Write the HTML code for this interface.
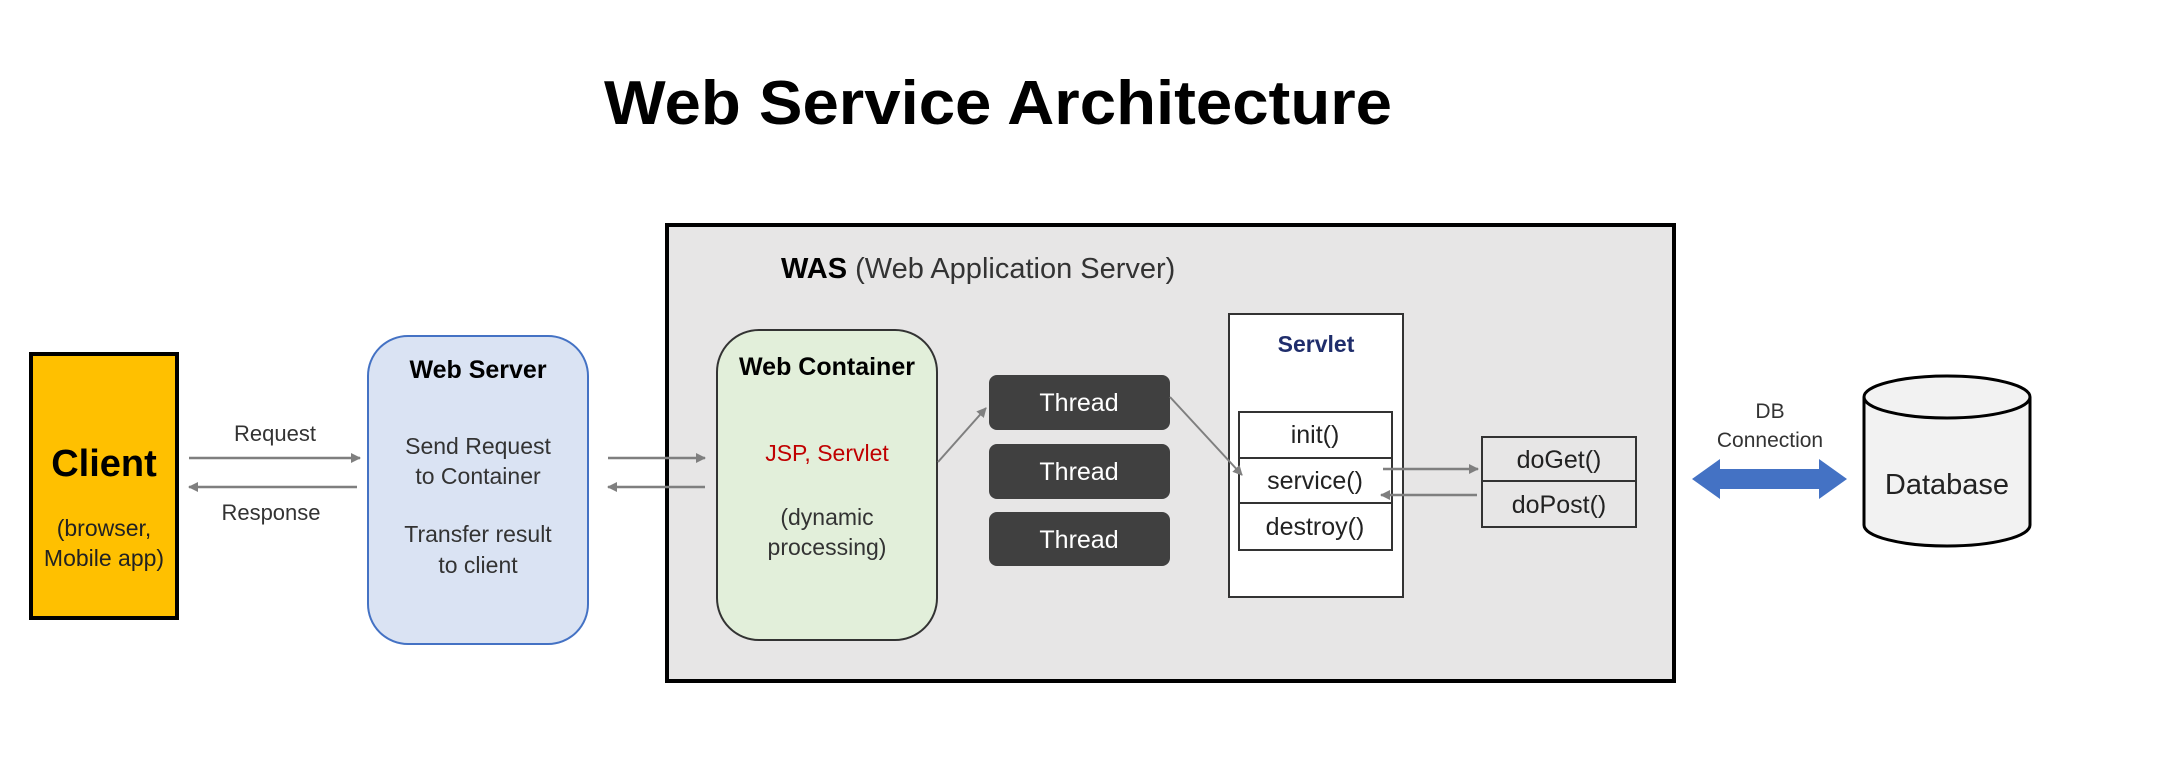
<!DOCTYPE html>
<html><head><meta charset="utf-8"><style>
html,body{margin:0;padding:0;background:#fff;}
svg{display:block;}
text{font-family:"Liberation Sans","Noto Sans CJK KR",sans-serif;}
</style></head><body>
<svg width="2168" height="762" viewBox="0 0 2168 762" xmlns="http://www.w3.org/2000/svg">
<defs>
<marker id="ah" markerWidth="10" markerHeight="10" refX="9" refY="5" orient="auto" markerUnits="userSpaceOnUse">
<path d="M0,0 L10,5 L0,10 z" fill="#7f7f7f"/></marker>
</defs>
<rect width="2168" height="762" fill="#fff"/>
<text x="998" y="124" font-size="62" font-weight="bold" text-anchor="middle" fill="#000" textLength="788" lengthAdjust="spacingAndGlyphs">Web Service Architecture</text>

<!-- Client -->
<rect x="31" y="354" width="146" height="264" fill="#FFC000" stroke="#000" stroke-width="4"/>
<text x="104" y="476" font-size="38" font-weight="bold" text-anchor="middle">Client</text>
<text x="104" y="536" font-size="23" text-anchor="middle" fill="#222">(browser,</text>
<text x="104" y="566" font-size="23" text-anchor="middle" fill="#222">Mobile app)</text>

<!-- Request/Response -->
<text x="275" y="441" font-size="22" text-anchor="middle" fill="#333">Request</text>
<line x1="189" y1="458" x2="360" y2="458" stroke="#7f7f7f" stroke-width="2.5" marker-end="url(#ah)"/>
<line x1="357" y1="487" x2="189" y2="487" stroke="#7f7f7f" stroke-width="2.5" marker-end="url(#ah)"/>
<text x="271" y="520" font-size="22" text-anchor="middle" fill="#333">Response</text>

<!-- Web Server -->
<rect x="368" y="336" width="220" height="308" rx="40" fill="#DAE3F3" stroke="#4472C4" stroke-width="2"/>
<text x="478" y="378" font-size="25" font-weight="bold" text-anchor="middle">Web Server</text>
<text x="478" y="454" font-size="23" text-anchor="middle" fill="#333">Send Request</text>
<text x="478" y="484" font-size="23" text-anchor="middle" fill="#333">to Container</text>
<text x="478" y="542" font-size="23" text-anchor="middle" fill="#333">Transfer result</text>
<text x="478" y="573" font-size="23" text-anchor="middle" fill="#333">to client</text>

<!-- WAS -->
<rect x="667" y="225" width="1007" height="456" fill="#E7E6E6" stroke="#000" stroke-width="4"/>
<text x="781" y="278" font-size="29" fill="#000"><tspan font-weight="bold">WAS</tspan><tspan fill="#333"> (Web Application Server)</tspan></text>

<line x1="608" y1="458" x2="705" y2="458" stroke="#7f7f7f" stroke-width="2.5" marker-end="url(#ah)"/>
<line x1="705" y1="487" x2="608" y2="487" stroke="#7f7f7f" stroke-width="2.5" marker-end="url(#ah)"/>

<!-- Web Container -->
<rect x="717" y="330" width="220" height="310" rx="42" fill="#E2EFDA" stroke="#333" stroke-width="2"/>
<text x="827" y="375" font-size="25" font-weight="bold" text-anchor="middle">Web Container</text>
<text x="827" y="461" font-size="23" text-anchor="middle" fill="#C00000">JSP, Servlet</text>
<text x="827" y="525" font-size="23" text-anchor="middle" fill="#333">(dynamic</text>
<text x="827" y="555" font-size="23" text-anchor="middle" fill="#333">processing)</text>

<!-- Threads -->
<rect x="989" y="375" width="181" height="55" rx="8" fill="#404040"/>
<rect x="989" y="444" width="181" height="55" rx="8" fill="#404040"/>
<rect x="989" y="512" width="181" height="54" rx="8" fill="#404040"/>
<text x="1079" y="411" font-size="25" text-anchor="middle" fill="#fff">Thread</text>
<text x="1079" y="480" font-size="25" text-anchor="middle" fill="#fff">Thread</text>
<text x="1079" y="548" font-size="25" text-anchor="middle" fill="#fff">Thread</text>

<line x1="938" y1="462" x2="986" y2="408" stroke="#7f7f7f" stroke-width="2" marker-end="url(#ah)"/>

<!-- Servlet -->
<rect x="1229" y="314" width="174" height="283" fill="#fff" stroke="#333" stroke-width="2"/>
<text x="1316" y="352" font-size="23" font-weight="bold" text-anchor="middle" fill="#1F2D6B">Servlet</text>
<rect x="1239" y="412" width="153" height="46" fill="#fff" stroke="#333" stroke-width="2"/>
<rect x="1239" y="458" width="153" height="45" fill="#fff" stroke="#333" stroke-width="2"/>
<rect x="1239" y="503" width="153" height="47" fill="#fff" stroke="#333" stroke-width="2"/>
<text x="1315" y="443" font-size="25" text-anchor="middle" fill="#222">init()</text>
<text x="1315" y="489" font-size="25" text-anchor="middle" fill="#222">service()</text>
<text x="1315" y="535" font-size="25" text-anchor="middle" fill="#222">destroy()</text>

<line x1="1170" y1="397" x2="1242" y2="475" stroke="#7f7f7f" stroke-width="2" marker-end="url(#ah)"/>

<!-- doGet/doPost -->
<rect x="1482" y="437" width="154" height="44" fill="#E7E6E6" stroke="#333" stroke-width="2"/>
<rect x="1482" y="481" width="154" height="46" fill="#E7E6E6" stroke="#333" stroke-width="2"/>
<text x="1559" y="468" font-size="25" text-anchor="middle" fill="#222">doGet()</text>
<text x="1559" y="513" font-size="25" text-anchor="middle" fill="#222">doPost()</text>
<line x1="1383" y1="469" x2="1478" y2="469" stroke="#7f7f7f" stroke-width="2.5" marker-end="url(#ah)"/>
<line x1="1477" y1="495" x2="1381" y2="495" stroke="#7f7f7f" stroke-width="2.5" marker-end="url(#ah)"/>

<!-- DB Connection -->
<text x="1770" y="418" font-size="21" text-anchor="middle" fill="#333">DB</text>
<text x="1770" y="447" font-size="21" text-anchor="middle" fill="#333">Connection</text>
<path d="M1692,479 L1720,459 L1720,469 L1819,469 L1819,459 L1847,479 L1819,499 L1819,489 L1720,489 L1720,499 Z" fill="#4472C4"/>

<!-- Database -->
<path d="M1864,397 L1864,525 A83,21 0 0 0 2030,525 L2030,397" fill="#F2F2F2" stroke="#000" stroke-width="3"/>
<ellipse cx="1947" cy="397" rx="83" ry="21" fill="#F2F2F2" stroke="#000" stroke-width="3"/>
<text x="1947" y="494" font-size="29" text-anchor="middle" fill="#222">Database</text>
</svg>
</body></html>
